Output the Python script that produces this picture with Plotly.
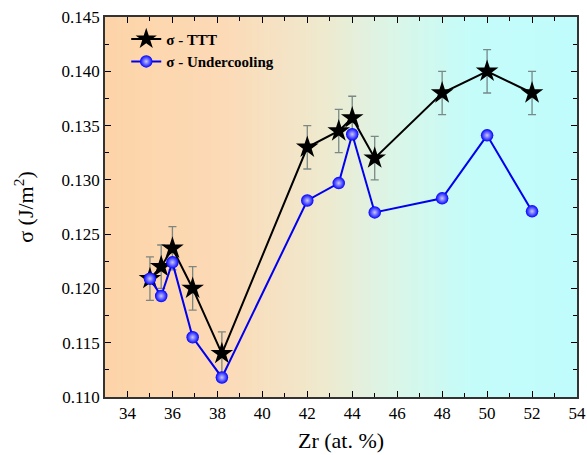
import plotly.graph_objects as go

zr = [35, 35.5, 36, 36.9, 38.2, 42, 43.4, 44, 45, 48, 50, 52]
sigma_ttt = [0.1209, 0.1220, 0.1237, 0.1200, 0.1140, 0.1330, 0.1345, 0.1357, 0.1320, 0.1380, 0.1400, 0.1380]
ttt_err = [0.002, 0.002, 0.002, 0.002, 0.002, 0.002, 0.002, 0.002, 0.002, 0.002, 0.002, 0.002]
sigma_uc = [0.1209, 0.1193, 0.1224, 0.1155, 0.1118, 0.1281, 0.1297, 0.1342, 0.1270, 0.1283, 0.1341, 0.1271]

font = "Liberation Serif, Times New Roman, serif"

fig = go.Figure()

# gradient background stops (position, rgb)
stops = [(0.0, (253, 212, 168)), (0.25, (252, 218, 182)), (0.45, (240, 232, 205)),
         (0.6, (220, 245, 230)), (0.78, (196, 252, 250)), (1.0, (192, 252, 252))]

def color_at(t):
    for (p0, c0), (p1, c1) in zip(stops[:-1], stops[1:]):
        if p0 <= t <= p1:
            f = (t - p0) / (p1 - p0)
            return "rgb(%d,%d,%d)" % tuple(round(a + (b - a) * f) for a, b in zip(c0, c1))
    return "rgb(%d,%d,%d)" % stops[-1][1]

n = 80
shapes = []
for i in range(n):
    shapes.append(dict(type="rect", xref="x domain", yref="y domain",
                       x0=i / n, x1=(i + 1) / n + 0.002, y0=0, y1=1,
                       fillcolor=color_at((i + 0.5) / n), line_width=0, layer="below"))

fig.add_trace(go.Scatter(
    x=zr, y=sigma_ttt, mode="lines+markers", name="σ - TTT",
    line=dict(color="black", width=2),
    marker=dict(symbol="star", size=17, color="black", line=dict(width=0)),
    error_y=dict(type="data", array=ttt_err, visible=True, color="rgba(110,125,125,0.9)",
                 thickness=1.3, width=4),
))
fig.add_trace(go.Scatter(
    x=zr, y=sigma_uc, mode="lines+markers", name="σ - Undercooling",
    line=dict(color="#0000ee", width=2),
    marker=dict(symbol="circle", size=12.5, color="#0000ff",
                gradient=dict(type="radial", color="#c8c8ff"), line=dict(width=0)),
))

fig.update_layout(
    width=587, height=455,
    margin=dict(l=105, r=10, t=17, b=58, autoexpand=False),
    paper_bgcolor="white", plot_bgcolor="white",
    shapes=shapes,
    font=dict(family=font, color="black", size=16),
    showlegend=True,
    legend=dict(x=0.045, y=0.985, xanchor="left", yanchor="top",
                bgcolor="rgba(0,0,0,0)", font=dict(family=font, size=15, weight="bold"),
                tracegroupgap=0, itemwidth=30),
    xaxis=dict(range=[33, 54], tickvals=[34, 36, 38, 40, 42, 44, 46, 48, 50, 52, 54],
               automargin=False,
               ticks="inside", ticklen=6, tickwidth=1.2, tickcolor="black",
               minor=dict(ticks="inside", ticklen=4, dtick=1, tick0=33, tickcolor="black", tickwidth=1),
               showline=True, linecolor="#333", linewidth=1.5, mirror="allticks",
               showgrid=False, zeroline=False,
               tickfont=dict(size=17),
               title=dict(text="Zr (at. %)", font=dict(size=22), standoff=10)),
    yaxis=dict(range=[0.110, 0.145], tickvals=[0.110, 0.115, 0.120, 0.125, 0.130, 0.135, 0.140, 0.145],
               tickformat=".3f", automargin=False,
               ticks="inside", ticklen=6, tickwidth=1.2, tickcolor="black",
               minor=dict(ticks="inside", ticklen=4, dtick=0.0025, tick0=0.110, tickcolor="black", tickwidth=1),
               showline=True, linecolor="#333", linewidth=1.5, mirror="allticks",
               showgrid=False, zeroline=False,
               tickfont=dict(size=17),
               title=dict(text="σ (J/m<sup>2</sup>)", font=dict(size=22), standoff=22)),
)

fig.write_html("out.html", config={"displayModeBar": False},
               post_script="document.body.style.margin='0';document.body.style.padding='0';")
